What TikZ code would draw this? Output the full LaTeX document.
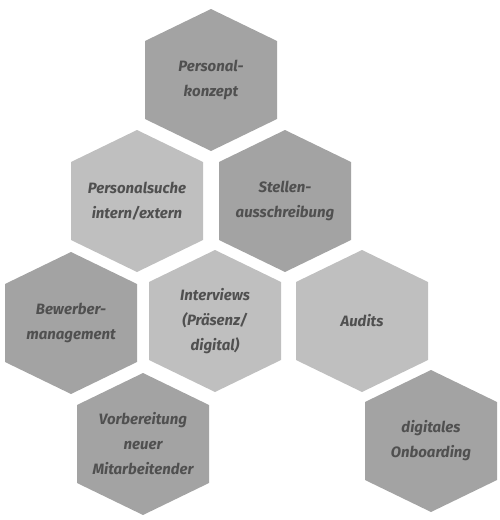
\documentclass[tikz,border=0pt]{standalone}
\usepackage{fontspec}
\setmainfont{Fira Sans}[BoldFont={Fira Sans Bold}, BoldItalicFont={Fira Sans Bold Italic}]
\usepackage{tikz}
\usetikzlibrary{positioning,calc}
\definecolor{hexdark}{HTML}{A3A3A3}
\definecolor{hexlight}{HTML}{BFBFBF}
\definecolor{hextext}{HTML}{505050}

\tikzset{
    dark/.style={fill=hexdark},
    light/.style={fill=hexlight},
    label/.style={text=hextext, align=center,
        font=\bfseries\itshape\fontsize{15}{25}\selectfont}
}

\begin{document}
\begin{tikzpicture}[x=1pt, y=-1pt]
    \useasboundingbox (0,0) rectangle (500,520);

    % hexagons: name / centre / fill / text
    \foreach \name/\pos/\col/\txt in {
        konzept/{211,80}/dark/{Personal-\\konzept},
        suche/{137,201}/light/{Personalsuche\\intern/extern},
        stellen/{285,201}/dark/{Stellen-\\ausschreibung},
        bewerber/{71,323}/dark/{Bewerber-\\management},
        interviews/{215,321}/light/{Interviews\\(Präsenz/\\digital)},
        audits/{362,321}/light/{Audits},
        vorbereitung/{143,444}/dark/{Vorbereitung\\neuer\\Mitarbeitender},
        onboarding/{431,441}/dark/{digitales\\Onboarding}}{
        \coordinate (\name-c) at (\pos);
        \fill [\col] ($(\name-c)+(0,-71)$) -- ++(66,32) -- ++(0,78)
            -- ++(-66,32) -- ++(-66,-32) -- ++(0,-78) -- cycle;
        \node [label] (\name) at (\name-c) {\txt};
    }
\end{tikzpicture}
\end{document}
